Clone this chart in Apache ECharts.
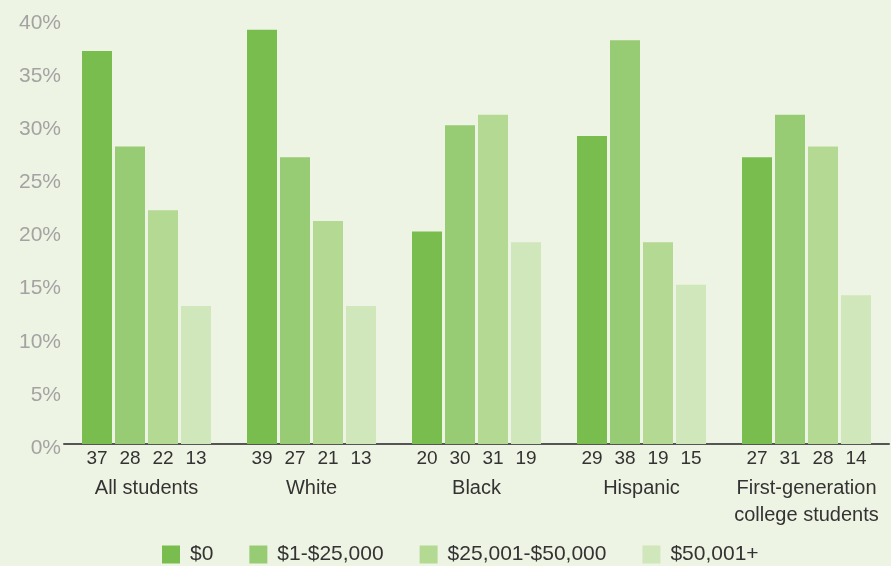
<!DOCTYPE html>
<html>
<head>
<meta charset="utf-8">
<script src="https://cdn.jsdelivr.net/npm/echarts@6/dist/echarts.min.js"></script>
<style>
  html, body { margin: 0; padding: 0; background: #eef4e4; }
  #chart { width: 891px; height: 566px; }
</style>
</head>
<body>
<div id="chart"></div>
<script>
// groups along the x axis
const categories = ['All students', 'White', 'Black', 'Hispanic', 'First-generation\ncollege students'];
// income brackets (legend)
const seriesNames = ['$0', '$1-$25,000', '$25,001-$50,000', '$50,001+'];
// percent values per bracket, one entry per group
const zeroIncome = [37, 39, 20, 29, 27];
const lowIncome = [28, 27, 30, 38, 31];
const midIncome = [22, 21, 31, 19, 28];
const highIncome = [13, 13, 19, 15, 14];
const yTicks = [0, 5, 10, 15, 20, 25, 30, 35, 40];

const colors = ['#79bd4f', '#97cb74', '#b3d993', '#d0e6bb'];
const fontFamily = '"Liberation Sans", Arial, sans-serif';

const chart = echarts.init(document.getElementById('chart'));

function makeSeries(name, data, i) {
  return {
    name: name,
    type: 'bar',
    data: data,
    barWidth: 30,
    barGap: '10%',
    itemStyle: { color: colors[i] },
    label: {
      show: true,
      position: 'bottom',
      distance: 5,
      color: '#333333',
      fontSize: 19,
      fontFamily: fontFamily
    },
    emphasis: { disabled: true }
  };
}

const option = {
  backgroundColor: '#eef4e4',
  animation: false,
  color: colors,
  grid: { left: 64, right: 2, top: 19, bottom: 122 },
  legend: {
    top: 542,
    left: 157,
    padding: [2, 5, 2, 5],
    itemWidth: 18,
    itemHeight: 18,
    itemGap: 36,
    icon: 'rect',
    textStyle: { color: '#333333', fontSize: 21, fontFamily: fontFamily, padding: [0, 0, 0, 5] },
    data: seriesNames
  },
  xAxis: {
    type: 'category',
    data: categories,
    axisLine: { lineStyle: { color: '#555555', width: 2 } },
    axisTick: { show: false },
    axisLabel: {
      margin: 31,
      color: '#333333',
      fontSize: 20,
      lineHeight: 27,
      fontFamily: fontFamily,
      interval: 0
    }
  },
  yAxis: {
    type: 'value',
    min: yTicks[0],
    max: yTicks[yTicks.length - 1],
    interval: 5,
    axisLine: { show: false },
    axisTick: { show: false },
    splitLine: { show: false },
    axisLabel: {
      margin: 3,
      color: '#a3a3a3',
      fontSize: 21,
      fontFamily: fontFamily,
      verticalAlign: 'top',
      lineHeight: 8,
      formatter: '{value}%'
    }
  },
  series: [
    makeSeries(seriesNames[0], zeroIncome, 0),
    makeSeries(seriesNames[1], lowIncome, 1),
    makeSeries(seriesNames[2], midIncome, 2),
    makeSeries(seriesNames[3], highIncome, 3)
  ]
};

chart.setOption(option);
</script>
</body>
</html>
